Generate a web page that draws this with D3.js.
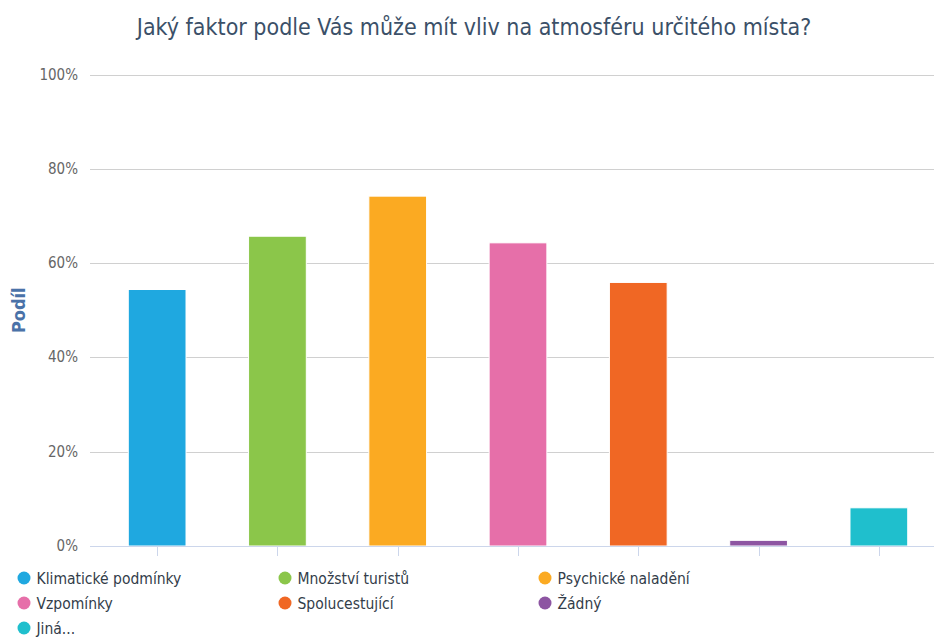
<!DOCTYPE html>
<html>
<head>
<meta charset="utf-8">
<script src="https://cdn.jsdelivr.net/npm/d3@7"></script>
<style>
  body { margin: 0; background: #fff; }
  svg { display: block; font-family: "DejaVu Sans Condensed", "DejaVu Sans", sans-serif; }
</style>
</head>
<body>
<div id="chart"></div>
<script>
// data
let categories = ['Klimatické podmínky', 'Množství turistů', 'Psychické naladění', 'Vzpomínky', 'Spolucestující', 'Žádný', 'Jiná...'];
let shares = [54.4, 65.7, 74.2, 64.3, 55.9, 1.2, 8.1];
let colors = ['#1fa8e0', '#8bc64a', '#fbaa22', '#e66fa9', '#f06724', '#8d55a2', '#1fbfcd'];
let yTicks = [0, 20, 40, 60, 80, 100];

let width = 934;
let height = 638;

let svg = d3.select('#chart')
  .append('svg')
  .attr('width', width)
  .attr('height', height);

let x = d3.scaleBand()
  .domain(categories)
  .range([97, 939])
  .paddingInner(0.52)
  .paddingOuter(0.26);

let y = d3.scaleLinear()
  .domain([0, 100])
  .range([546, 74.5]);

// title
svg.append('text')
  .attr('x', 474)
  .attr('y', 35)
  .attr('text-anchor', 'middle')
  .style('font-size', '23px')
  .style('fill', '#3b5068')
  .text('Jaký faktor podle Vás může mít vliv na atmosféru určitého místa?');

// gridlines
svg.append('g')
  .selectAll('line')
  .data(yTicks.filter(d => d > 0))
  .enter()
  .append('line')
  .attr('x1', 90)
  .attr('x2', width)
  .attr('y1', d => Math.round(y(d)) + 0.5)
  .attr('y2', d => Math.round(y(d)) + 0.5)
  .style('stroke', '#d0d0d0')
  .style('stroke-width', 1);

// y labels
svg.append('g')
  .selectAll('text')
  .data(yTicks)
  .enter()
  .append('text')
  .attr('x', 78)
  .attr('y', d => y(d) + 5)
  .attr('text-anchor', 'end')
  .style('font-size', '15px')
  .style('fill', '#666')
  .text(d => d + '%');

svg.append('text')
  .attr('transform', 'translate(25,' + y(50) + ') rotate(-90)')
  .attr('text-anchor', 'middle')
  .style('font-size', '18px')
  .style('font-weight', 'bold')
  .style('fill', '#4a72a8')
  .text('Podíl');

// bars
svg.append('g')
  .selectAll('rect')
  .data(shares)
  .enter()
  .append('rect')
  .attr('x', (d, i) => x(categories[i]))
  .attr('y', d => y(d))
  .attr('width', x.bandwidth())
  .attr('height', d => y(0) - y(d))
  .style('fill', (d, i) => colors[i])
  .style('stroke', '#fff')
  .style('stroke-width', 1);

// x axis line + ticks
let xAxis = svg.append('g');
xAxis.append('line')
  .attr('x1', 90)
  .attr('x2', width)
  .attr('y1', y(0) + 0.5)
  .attr('y2', y(0) + 0.5)
  .style('stroke', '#ccd6eb');
xAxis.selectAll('.tick')
  .data(categories)
  .enter()
  .append('line')
  .attr('class', 'tick')
  .attr('x1', d => Math.round(x(d) + x.bandwidth() / 2) + 0.5)
  .attr('x2', d => Math.round(x(d) + x.bandwidth() / 2) + 0.5)
  .attr('y1', y(0))
  .attr('y2', y(0) + 10)
  .style('stroke', '#ccd6eb');

// legend
let legendCols = [24, 285, 545];
let legend = svg.selectAll('.legend')
  .data(categories)
  .enter()
  .append('g')
  .attr('class', 'legend')
  .attr('transform', (d, i) => 'translate(' + legendCols[i % 3] + ',' + (578 + Math.floor(i / 3) * 25) + ')');

legend.append('circle')
  .attr('r', 6.5)
  .style('fill', (d, i) => colors[i]);

legend.append('text')
  .attr('x', 12.5)
  .attr('y', 5.5)
  .style('font-size', '15.5px')
  .style('fill', '#333d4a')
  .text(d => d);
</script>
</body>
</html>
